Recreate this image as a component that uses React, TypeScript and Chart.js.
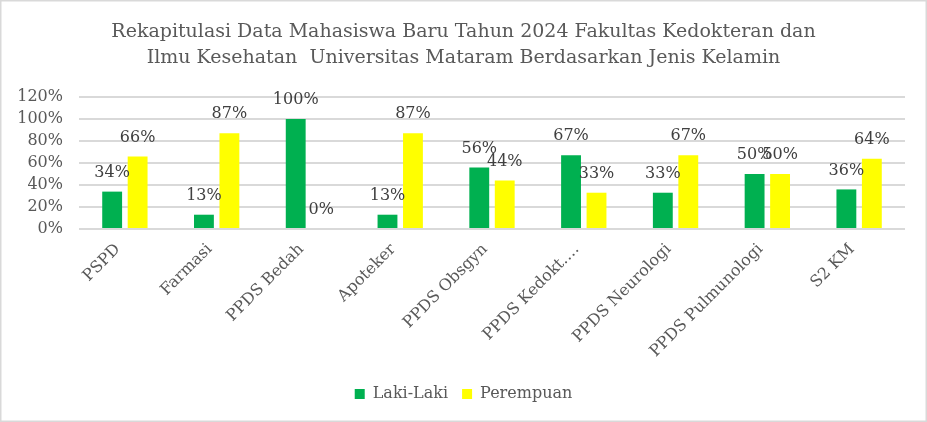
import React, { useEffect, useRef } from "react";
import { Chart, registerables } from "chart.js";

Chart.register(...registerables);

const categories = [
  "PSPD",
  "Farmasi",
  "PPDS Bedah",
  "Apoteker",
  "PPDS Obsgyn",
  "PPDS Kedokt….",
  "PPDS Neurologi",
  "PPDS Pulmunologi",
  "S2 KM",
];
const lakiLaki = [34, 13, 100, 13, 56, 67, 33, 50, 36];
const perempuan = [66, 87, 0, 87, 44, 33, 67, 50, 64];
const titleLines = [
  "Rekapitulasi Data Mahasiswa Baru Tahun 2024 Fakultas Kedokteran dan",
  "Ilmu Kesehatan  Universitas Mataram Berdasarkan Jenis Kelamin",
];

const FONT = "'DejaVu Serif', serif";

const dataLabelPlugin = {
  id: "dataLabels",
  afterDatasetsDraw(chart: any) {
    const ctx = chart.ctx;
    ctx.save();
    ctx.font = `16px ${FONT}`;
    ctx.fillStyle = "#404040";
    ctx.textAlign = "center";
    ctx.textBaseline = "middle";
    chart.data.datasets.forEach((ds: any, di: number) => {
      const meta = chart.getDatasetMeta(di);
      meta.data.forEach((bar: any, i: number) => {
        ctx.fillText(ds.data[i] + "%", bar.x, bar.y - 19);
      });
    });
    ctx.restore();
  },
};

const borderPlugin = {
  id: "outerBorder",
  afterDraw(chart: any) {
    const ctx = chart.ctx;
    ctx.save();
    ctx.strokeStyle = "#d9d9d9";
    ctx.lineWidth = 1.5;
    ctx.strokeRect(0.75, 0.75, chart.width - 1.5, chart.height - 1.5);
    ctx.restore();
  },
};

export default function App() {
  const ref = useRef<HTMLCanvasElement | null>(null);
  useEffect(() => {
    document.body.style.margin = "0";
    const chart = new Chart(ref.current as HTMLCanvasElement, {
      type: "bar",
      data: {
        labels: categories,
        datasets: [
          {
            label: "Laki-Laki",
            data: lakiLaki,
            backgroundColor: "#00B050",
            barPercentage: 0.78,
            categoryPercentage: 0.555,
          },
          {
            label: "Perempuan",
            data: perempuan,
            backgroundColor: "#FFFF00",
            barPercentage: 0.78,
            categoryPercentage: 0.555,
          },
        ],
      },
      options: {
        responsive: false,
        animation: false,
        layout: { padding: { left: 0, right: 0, top: 0, bottom: 10 } },
        plugins: {
          title: {
            display: true,
            text: titleLines,
            color: "#595959",
            font: { family: FONT, size: 19, weight: "normal", lineHeight: 1.37 },
            padding: { top: 19, bottom: 26 },
          },
          legend: {
            position: "bottom",
            labels: {
              boxWidth: 10,
              boxHeight: 10,
              color: "#595959",
              font: { family: FONT, size: 16 },
              padding: 14,
            },
          },
          tooltip: { enabled: false },
        },
        scales: {
          x: {
            grid: { display: false },
            border: { display: false },
            ticks: {
              color: "#595959",
              font: { family: FONT, size: 16 },
              minRotation: 45,
              maxRotation: 45,
              autoSkip: false,
              padding: 3,
              labelOffset: -7,
            },
            afterFit(scale: any) {
              scale.height = 143;
            },
          },
          y: {
            min: 0,
            max: 120,
            border: { display: false },
            grid: { color: "#d9d9d9", lineWidth: 2, drawTicks: false },
            ticks: {
              stepSize: 20,
              autoSkip: false,
              color: "#595959",
              font: { family: FONT, size: 16 },
              padding: 16,
              callback: (v: any) => v + "%",
            },
            afterFit(scale: any) {
              scale.width = 79;
            },
          },
          yRight: {
            position: "right",
            display: true,
            border: { display: false },
            grid: { display: false, drawTicks: false },
            ticks: { display: false },
            afterFit(scale: any) {
              scale.width = 22;
            },
          },
        },
      },
      plugins: [dataLabelPlugin, borderPlugin],
    } as any);
    return () => chart.destroy();
  }, []);
  return (
    <div style={{ position: "fixed", left: 0, top: 0, width: 927, height: 422 }}>
      <canvas ref={ref} width={927} height={422} />
    </div>
  );
}
